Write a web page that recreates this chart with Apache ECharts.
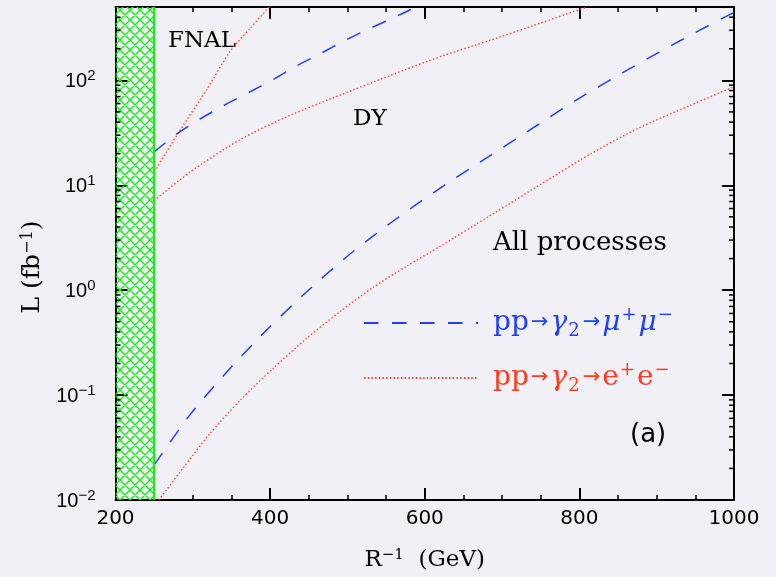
<!DOCTYPE html>
<html><head><meta charset="utf-8">
<script src="https://cdn.jsdelivr.net/npm/echarts@6/dist/echarts.min.js"></script>
<style>html,body{margin:0;padding:0;background:#f1f0f6}#c{width:776px;height:577px}</style>
</head><body><div id="c"></div>
<script>
// ---- axis definitions ----
const xMin = 200, xMax = 1000, xStep = 200;
const yMin = 0.01, yMax = 500;
const yDecades = [-2, -1, 0, 1, 2];
const excludedBand = [200, 250];

// ---- curves (R^-1 in GeV, L in fb^-1) ----
// FNAL, e+e- (red dotted, steep)
const fnalEeX = [250, 283, 318, 350, 374, 395, 398];
const fnalEeL = [13.5, 33, 82, 197, 312, 466, 500];
// upper blue dashed (mu+mu-)
const dyMuX = [250, 279, 309, 339, 372, 404, 434, 467, 499, 531, 564, 580, 587];
const dyMuL = [20.8, 30.7, 42.6, 57, 76.4, 102, 137, 183, 245, 317, 409, 466, 500];
// DY, e+e- (red dotted, middle)
const dyEeX = [250, 296, 361, 426, 490, 555, 620, 684, 749, 799, 810];
const dyEeL = [7.13, 13.3, 27.2, 46.5, 72, 111, 168, 240, 350, 470, 500];
// All processes, mu+mu- (blue dashed, lower)
const allMuX = [250, 296, 344, 393, 447, 501, 557, 620, 677, 737, 797, 860, 922, 986, 1000];
const allMuL = [0.0216, 0.0644, 0.166, 0.40, 0.96, 2.14, 4.44, 9.4, 17.6, 34, 65.6, 123, 221, 394, 443];
// All processes, e+e- (red dotted, lower)
const allEeX = [256, 288, 320, 361, 404, 447, 490, 533, 577, 620, 684, 749, 814, 878, 943, 1000];
const allEeL = [0.0100, 0.0204, 0.0411, 0.0891, 0.180, 0.346, 0.621, 1.06, 1.70, 2.62, 5.1, 10.1, 19.8, 35.5, 57.5, 87];

const MU_NAME = 'pp→γ2→μ+μ−';
const EE_NAME = 'pp→γ2→e+e−';

const BLUE = '#1f3ffb', RED = '#ff3b1c', GREEN = '#1aec1a';
const SERIF = '"DejaVu Serif", serif';
const SANS = '"DejaVu Sans", sans-serif';

// minor tick values on the log axis (2..9 per decade)
const minorVals = [];
yDecades.forEach(d => { for (let m = 2; m <= 9; m++) { const v = m * Math.pow(10, d); if (v < yMax) minorVals.push(v); } });

// crosshatch pattern
const hatch = document.createElement('canvas');
hatch.width = 10; hatch.height = 10;
const hg = hatch.getContext('2d');
hg.strokeStyle = GREEN; hg.lineWidth = 1.4;
hg.beginPath();
[-10, 0, 10].forEach(k => {
  hg.moveTo(-2, -2 + k); hg.lineTo(12, 12 + k);
  hg.moveTo(12 + k, -2); hg.lineTo(-2 + k, 12);
});
hg.stroke();

function pairs(xs, ys) { return xs.map((x, i) => [x, ys[i]]); }
function curve(name, xs, ys, color, dotted) {
  return {
    type: 'line', name, data: pairs(xs, ys), symbol: 'none', showSymbol: false, smooth: 0.25,
    silent: true, z: 3, clip: true,
    lineStyle: { color, width: dotted ? 1.4 : 1.5, type: dotted ? [1.4, 2.3] : [14.5, 13.5], cap: 'butt', join: 'round' },
    itemStyle: { color }
  };
}

const supLabel = (v) => {
  const e = Math.round(Math.log10(v));
  if (Math.abs(Math.log10(v) - e) > 1e-6) return '';
  return '{b|10}{s|' + (e < 0 ? '−' + (-e) : String(e)) + '}';
};

const tickCommon = { show: true, inside: true, length: 12, lineStyle: { color: '#000', width: 2 } };
const lineCommon = { show: true, lineStyle: { color: '#000', width: 2 } };

const legendRich = (color) => ({
  t: { fontFamily: SERIF, fontSize: 28, color, lineHeight: 34 },
  a: { fontFamily: SANS, fontSize: 21, color, padding: [0, 2, 0, 2] },
  g: { fontFamily: SERIF, fontSize: 28, fontStyle: 'italic', color },
  sub: { fontFamily: SERIF, fontSize: 18, color, verticalAlign: 'bottom', lineHeight: 17, padding: [0, 1, 0, 1] },
  sup: { fontFamily: SERIF, fontSize: 18, color, verticalAlign: 'top', lineHeight: 17, padding: [0, 2, 0, 1] }
});

const chart = echarts.init(document.getElementById('c'), null, { renderer: 'canvas' });
chart.setOption({
  backgroundColor: '#f1f0f6',
  animation: false,
  grid: { left: 115.5, right: 42, top: 7, bottom: 75, containLabel: false },
  xAxis: [
    { type: 'value', min: xMin, max: xMax, interval: xStep, position: 'bottom',
      axisLine: lineCommon, axisTick: tickCommon,
      minorTick: { show: true, splitNumber: 4, length: 5, lineStyle: { color: '#000', width: 1.5 } },
      splitLine: { show: false }, minorSplitLine: { show: false },
      axisLabel: { margin: 9, fontFamily: SANS, fontSize: 20, color: '#000', formatter: v => String(v) },
      name: '{r|R}{s|−1}{r|  (GeV)}', nameLocation: 'middle', nameGap: 48,
      nameTextStyle: { rich: {
        r: { fontFamily: SERIF, fontSize: 23, color: '#000', verticalAlign: 'bottom' },
        s: { fontFamily: SERIF, fontSize: 15, color: '#000', verticalAlign: 'top', padding: [0, 0, 9, 0] } } } },
    { type: 'value', min: xMin, max: xMax, interval: xStep, position: 'top',
      axisLine: lineCommon, axisTick: tickCommon,
      minorTick: { show: true, splitNumber: 4, length: 5, lineStyle: { color: '#000', width: 1.5 } },
      splitLine: { show: false }, axisLabel: { show: false } }
  ],
  yAxis: [
    { type: 'log', logBase: 10, min: yMin, max: yMax, position: 'left',
      axisLine: lineCommon, axisTick: tickCommon, splitLine: { show: false },
      axisLabel: { margin: 20, formatter: supLabel, showMaxLabel: false, rich: {
        b: { fontFamily: '"Liberation Sans", sans-serif', fontSize: 20, color: '#000', verticalAlign: 'bottom' },
        s: { fontFamily: '"Liberation Sans", sans-serif', fontSize: 15, color: '#000', verticalAlign: 'top', padding: [0, 0, 8, 0] } } },
      name: '{r|L (fb}{s|−1}{r|)}', nameLocation: 'middle', nameRotate: 90, nameGap: 60,
      nameTextStyle: { padding: [0, 27, 0, 0], rich: {
        r: { fontFamily: SERIF, fontSize: 25, color: '#000', verticalAlign: 'bottom' },
        s: { fontFamily: SERIF, fontSize: 16, color: '#000', verticalAlign: 'top', padding: [0, 0, 9, 0] } } } },
    { type: 'log', logBase: 10, min: yMin, max: yMax, position: 'right',
      axisLine: lineCommon, axisTick: tickCommon, splitLine: { show: false }, axisLabel: { show: false } }
  ],
  legend: [
    { data: [MU_NAME], orient: 'vertical', left: 363, top: 306, padding: 0, itemWidth: 114, itemHeight: 34,
      selectedMode: false, itemStyle: { opacity: 0 },
      formatter: () => '{t|pp}{a|→}{g|γ}{sub|2}{a|→}{g|μ}{sup|+}{g|μ}{sup|−}',
      textStyle: { color: BLUE, padding: [0, 0, 0, 10], rich: legendRich(BLUE) } },
    { data: [EE_NAME], orient: 'vertical', left: 363, top: 361, padding: 0, itemWidth: 114, itemHeight: 34,
      selectedMode: false, itemStyle: { opacity: 0 },
      formatter: () => '{t|pp}{a|→}{g|γ}{sub|2}{a|→}{t|e}{sup|+}{t|e}{sup|−}',
      textStyle: { color: RED, padding: [0, 0, 0, 10], rich: legendRich(RED) } }
  ],
  graphic: [
    { type: 'text', left: 168, top: 30, style: { text: 'FNAL', font: '23px ' + SERIF, fill: '#000' } },
    { type: 'text', left: 353, top: 108, style: { text: 'DY', font: '23px ' + SERIF, fill: '#000' } },
    { type: 'text', left: 493, top: 230, style: { text: 'All processes', font: '26px ' + SERIF, fill: '#000' } },
    { type: 'text', left: 630, top: 422, style: { text: '(a)', font: '26px ' + SANS, fill: '#000' } }
  ],
  series: [
    Object.assign(curve('FNAL e+e−', fnalEeX, fnalEeL, RED, true), {
      markArea: { silent: true, z: 1,
        itemStyle: { color: { image: hatch, repeat: 'repeat' }, borderWidth: 0 },
        data: [[{ xAxis: excludedBand[0] }, { xAxis: excludedBand[1] }]] },
      markLine: { silent: true, symbol: 'none', label: { show: false },
        lineStyle: { color: GREEN, width: 2, type: 'solid' },
        data: [{ xAxis: excludedBand[1] }] } }),
    curve('DY μ+μ−', dyMuX, dyMuL, BLUE, false),
    curve('DY e+e−', dyEeX, dyEeL, RED, true),
    curve(MU_NAME, allMuX, allMuL, BLUE, false),
    curve(EE_NAME, allEeX, allEeL, RED, true),
    { type: 'custom', name: 'minor', silent: true, z: 4, clip: false,
      data: minorVals.map(v => [xMin, v]),
      renderItem: (params, api) => {
        const v = api.value(1);
        const l = api.coord([xMin, v]);
        const r = api.coord([xMax, v]);
        return { type: 'group', children: [
          { type: 'line', shape: { x1: l[0], y1: l[1], x2: l[0] + 5, y2: l[1] }, style: { stroke: '#000', lineWidth: 1.5 } },
          { type: 'line', shape: { x1: r[0] - 5, y1: r[1], x2: r[0], y2: r[1] }, style: { stroke: '#000', lineWidth: 1.5 } }
        ] };
      } }
  ]
});
</script>
</body></html>
